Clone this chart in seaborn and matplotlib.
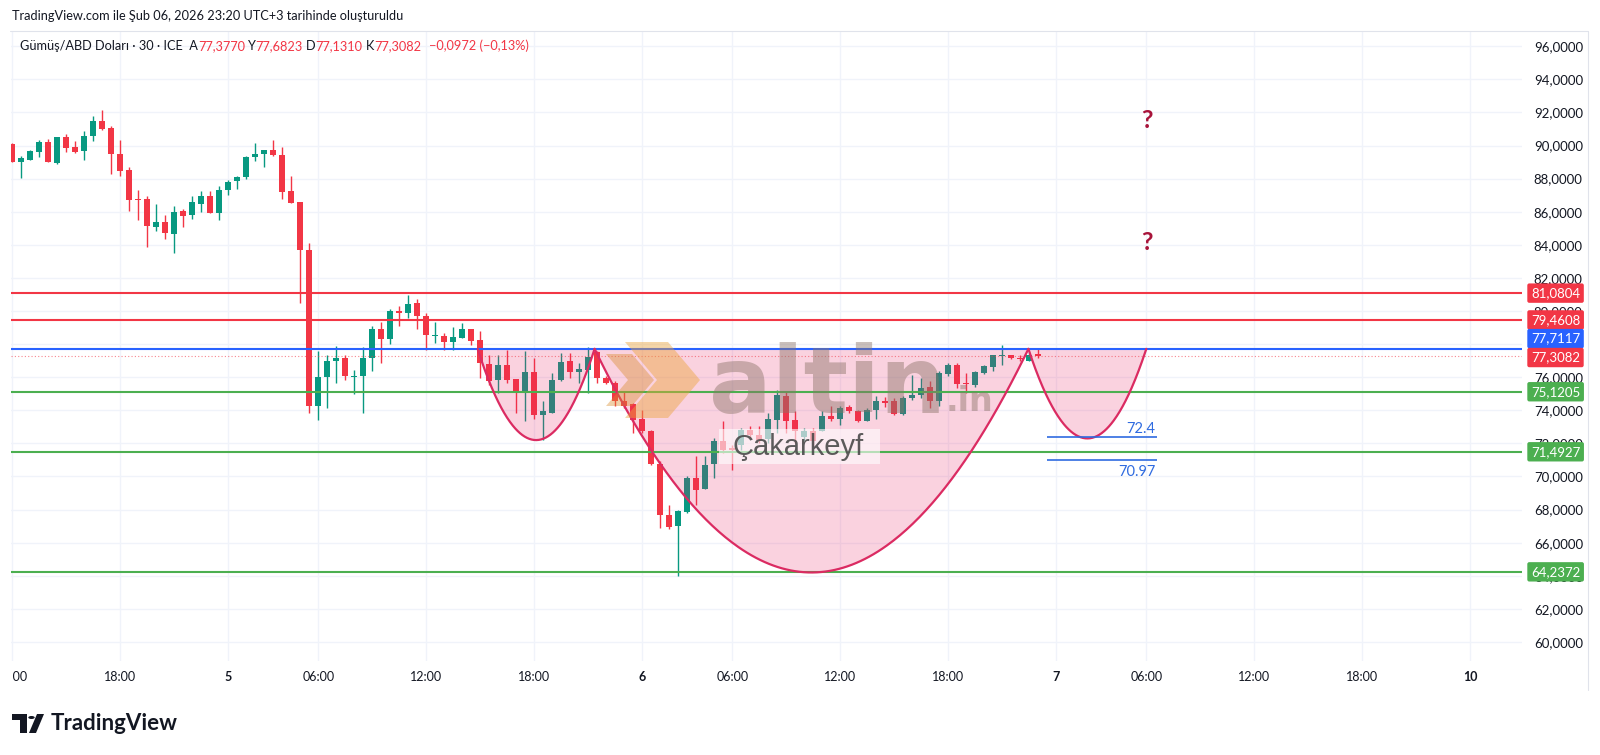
import numpy as np
import pandas as pd
import seaborn as sns
import matplotlib.pyplot as plt
from matplotlib.patches import Polygon, Rectangle, Circle
from matplotlib.transforms import Bbox

# 30 dk mumlar, 4 Şub 12:00 -> 6 Şub 23:00
opens = [90.09, 88.98, 89.14, 89.61, 90.19, 88.94, 90.49, 89.89, 89.65, 90.59,
         91.48, 91.06, 89.51, 88.54, 86.77, 86.77, 85.07, 85.40, 84.67, 86.02,
         85.78, 86.49, 86.97, 85.92, 87.33, 87.83, 88.08, 89.28, 89.51, 89.75,
         89.45, 87.23, 86.57, 83.71, 74.25, 76.02, 76.97, 77.17, 76.04, 76.06,
         77.17, 78.92, 78.33, 79.99, 79.87, 80.49, 79.68, 78.50, 78.46, 78.13,
         78.38, 78.94, 78.27, 76.80, 75.81, 76.76, 75.91, 75.08, 76.31, 73.73,
         73.84, 75.81, 76.96, 76.31, 76.45, 77.52, 75.95, 75.65, 74.54, 74.38,
         73.48, 72.77, 70.76, 67.66, 66.99, 67.86, 69.91, 69.27, 70.75, 72.14,
         71.70, 71.90, 72.79, 72.53, 72.28, 73.43, 74.84, 73.43, 72.37, 72.77,
         72.73, 73.63, 73.49, 74.18, 73.94, 73.37, 74.04, 74.54, 74.54, 73.77,
         74.74, 74.90, 75.39, 74.58, 76.19, 76.76, 75.65, 75.55, 76.25, 76.61,
         77.28, 77.32, 77.16, 77.00, 77.377]
highs = [90.15, 89.35, 89.75, 90.35, 90.39, 90.49, 90.69, 90.25, 90.86, 91.80,
         92.12, 91.16, 90.35, 88.70, 87.33, 86.97, 86.46, 85.78, 86.32, 86.16,
         86.93, 87.23, 87.23, 87.57, 87.93, 88.18, 89.35, 90.15, 89.75, 90.35,
         89.89, 88.18, 86.60, 84.12, 77.57, 77.37, 77.87, 77.37, 76.46, 77.81,
         79.08, 79.34, 80.15, 80.29, 80.95, 80.75, 79.89, 79.34, 78.68, 79.02,
         79.28, 78.94, 78.78, 77.37, 77.36, 77.66, 75.91, 77.56, 77.16, 74.54,
         76.25, 77.46, 77.46, 76.86, 77.80, 77.60, 76.05, 75.75, 75.19, 74.44,
         74.04, 72.80, 70.92, 68.26, 68.00, 70.01, 71.22, 71.22, 72.30, 73.33,
         71.90, 72.90, 73.03, 73.03, 73.84, 75.24, 75.19, 73.94, 72.93, 72.93,
         73.94, 74.24, 74.24, 74.34, 74.04, 74.14, 74.84, 74.78, 74.74, 74.84,
         76.15, 75.95, 75.79, 76.35, 76.86, 76.86, 76.25, 76.39, 76.76, 77.36,
         77.96, 77.32, 77.32, 77.52, 77.6823]
lows = [88.98, 88.04, 89.10, 89.28, 88.98, 88.88, 89.61, 89.55, 89.14, 90.25,
        90.96, 88.30, 88.14, 86.06, 85.48, 83.87, 84.81, 84.37, 83.50, 85.05,
        85.56, 85.98, 85.92, 85.52, 87.03, 87.37, 87.97, 89.04, 88.70, 89.39,
        86.79, 86.52, 80.49, 73.84, 73.44, 74.15, 75.66, 75.82, 75.01, 73.84,
        76.36, 76.86, 78.01, 79.08, 79.58, 78.94, 77.63, 78.07, 77.67, 77.67,
        78.38, 77.97, 75.96, 75.50, 75.04, 75.65, 73.84, 73.33, 73.49, 72.22,
        73.84, 75.75, 75.95, 75.65, 75.04, 75.65, 75.59, 74.24, 74.14, 72.63,
        72.63, 70.70, 66.89, 66.85, 63.97, 67.80, 68.30, 69.27, 69.93, 71.40,
        70.41, 71.60, 72.33, 72.02, 72.02, 72.63, 72.63, 72.02, 72.12, 71.82,
        72.73, 73.33, 73.09, 73.84, 73.29, 73.33, 73.49, 74.18, 73.69, 73.73,
        74.64, 74.74, 74.14, 74.24, 76.05, 75.35, 75.04, 75.39, 76.19, 76.35,
        76.76, 77.12, 77.00, 77.00, 77.131]
closes = [88.98, 89.22, 89.65, 90.19, 88.98, 90.49, 89.85, 89.61, 90.59, 91.48,
          91.00, 89.51, 88.46, 86.69, 86.73, 85.16, 85.40, 84.71, 85.98, 85.76,
          86.57, 86.97, 85.92, 87.33, 87.79, 88.08, 89.30, 89.51, 89.75, 89.45,
          87.19, 86.52, 83.71, 74.25, 76.02, 76.97, 77.17, 76.06, 76.10, 77.17,
          78.92, 78.33, 79.99, 79.87, 80.43, 79.68, 78.54, 78.54, 78.13, 78.42,
          78.94, 78.21, 76.86, 75.80, 76.72, 75.85, 75.14, 76.31, 73.69, 73.94,
          75.81, 76.90, 76.31, 76.49, 77.20, 75.95, 75.65, 74.54, 74.28, 73.44,
          72.77, 70.76, 67.66, 66.93, 67.90, 69.91, 69.21, 70.72, 72.16, 71.62,
          71.58, 72.80, 72.53, 72.22, 73.49, 74.94, 73.37, 72.73, 72.77, 72.12,
          73.63, 73.49, 74.14, 73.94, 73.33, 74.04, 74.58, 74.46, 73.77, 74.74,
          74.90, 75.35, 74.58, 76.25, 76.76, 75.59, 75.59, 76.29, 76.65, 77.32,
          77.32, 77.16, 77.12, 77.36, 77.3082]

# zaman ekseni (mum sırası)
tick_pos = [0, 12, 24, 34, 46, 58, 70, 80, 92, 104, 116, 126, 138, 150, 162]
tick_labels = ['12:00', '18:00', '5', '06:00', '12:00', '18:00', '6', '06:00',
               '12:00', '18:00', '7', '06:00', '12:00', '18:00', '10']
day_labels = ['5', '6', '7', '10']

# yatay seviyeler
levels = [81.0804, 79.4608, 77.7117, 75.1205, 71.4927, 64.2372]
level_colors = ['#F23645', '#F23645', '#2962FF', '#4CAF50', '#4CAF50', '#4CAF50']
last_price = 77.3082

# sağ eksendeki etiketler (değer, renk)
lab_vals = [81.0804, 79.4608, 77.7117, 77.3082, 75.1205, 71.4927, 64.2372]
lab_cols = ['#F23645', '#F23645', '#2962FF', '#F23645', '#4CAF50', '#4CAF50', '#4CAF50']

# çanak çizimleri: (başlangıç, bitiş, dip)
cups = [(51.7, 64.7, 72.2), (64.7, 112.9, 64.2), (112.9, 126.0, 72.3)]
cup_top = 77.7117

targets = [72.4, 70.97]

GREEN = '#089981'
RED = '#F23645'
DARK = '#131722'

sns.set_style('white')
plt.rcParams['font.family'] = ['Lato', 'DejaVu Sans']

W, H = 1600, 755
fig = plt.figure(figsize=(16, 7.55), dpi=100)


def fx(px):
    return px / W


def fy(py):
    return 1 - py / H


ax_l, ax_r, ax_t, ax_b = 11, 1522, 31, 661
ax = fig.add_axes([fx(ax_l), fy(ax_b), (ax_r - ax_l) / W, (ax_b - ax_t) / H])
step = 9.0
x0px = 12.3
ax.set_xlim((ax_l - x0px) / step, (ax_r - x0px) / step)
ax.set_ylim(58.85, 96.92)

# mumlar
df = pd.DataFrame({'o': opens, 'h': highs, 'l': lows, 'c': closes})
df['x'] = np.arange(len(df))
df['col'] = np.where(df['c'] >= df['o'], GREEN, RED)
body_lo = np.minimum(df['o'], df['c'])
body_h = np.maximum((df['c'] - df['o']).abs(), 0.05)
ax.vlines(df['x'], df['l'], df['h'], colors=df['col'], lw=1, zorder=3)
ax.bar(df['x'], body_h, bottom=body_lo, width=0.66, color=df['col'], lw=0, zorder=4)

# seviyeler
for v, col in zip(levels, level_colors):
    ax.axhline(v, color=col, lw=1.5, zorder=6)
ax.axhline(last_price, color=RED, lw=0.8, ls=(0, (1, 2)), alpha=0.6, zorder=6)

# çanaklar
for xs, xe, bot in cups:
    t = np.linspace(0, 1, 200)
    xm = (xs + xe) / 2
    cy = 2 * bot - cup_top
    xx = (1 - t) ** 2 * xs + 2 * (1 - t) * t * xm + t ** 2 * xe
    yy = (1 - t) ** 2 * cup_top + 2 * (1 - t) * t * cy + t ** 2 * cup_top
    ax.fill_between(xx, yy, cup_top, color='#E91E63', alpha=0.2, lw=0, zorder=5)
    sns.lineplot(x=xx, y=yy, ax=ax, color='#DB2B62', lw=1.6, sort=False, zorder=7)

# hedef çizgileri
ax.hlines(targets, 115.0, 127.2, color='#2F6BE0', lw=1.2, zorder=7)
ax.text(127.0, targets[0] + 0.05, '72.4', color='#2F6BE0', fontsize=10.5,
        ha='right', va='bottom', zorder=8)
ax.text(127.0, targets[1] - 0.25, '70.97', color='#2F6BE0', fontsize=10.5,
        ha='right', va='top', zorder=8)

# soru işaretleri
for yq in [91.5, 84.15]:
    ax.text(126.1, yq, '?', color='#A8143A', fontsize=18, fontweight='bold',
            ha='center', va='center', zorder=8)

# eksenler
ax.set_yticks(np.arange(60, 97, 2))
ax.set_yticklabels([f'{v:.4f}'.replace('.', ',') for v in np.arange(60, 97, 2)])
ax.yaxis.tick_right()
ax.tick_params(axis='y', length=0, pad=8.5, labelsize=9.5, labelcolor=DARK)
ax.set_xticks(tick_pos)
ax.set_xticklabels(tick_labels)
ax.tick_params(axis='x', length=0, pad=7, labelsize=9, labelcolor=DARK)
clip = Bbox.from_extents(ax_l + 1, 0, W, H)
for lbl in ax.get_xticklabels():
    if lbl.get_text() in day_labels:
        lbl.set_fontweight('bold')
    lbl.set_clip_box(clip)
    lbl.set_clip_on(True)
ax.grid(True, color='#F0F3FA', lw=1)
ax.set_axisbelow(True)
for s in ax.spines.values():
    s.set_visible(False)

# fiyat etiketleri: üst üste binenleri TradingView gibi aç
ytr = ax.get_yaxis_transform()
lab_y = list(lab_vals)
lab_y[2] = lab_vals[2] + 0.62
lab_y[3] = lab_vals[3] - 0.12
xa = (1531 - ax_l) / (ax_r - ax_l)
for v, yv, col in zip(lab_vals, lab_y, lab_cols):
    ax.text(xa, yv, f'{v:.4f}'.replace('.', ','), transform=ytr,
            color='white', fontsize=9.5, ha='left', va='center', clip_on=False, zorder=20,
            bbox=dict(boxstyle='round,pad=0.28,rounding_size=0.15', fc=col, ec='none'))

# filigran
fig.patches.append(Polygon([(fx(625), fy(342)), (fx(668), fy(342)), (fx(700), fy(380)),
                            (fx(668), fy(418)), (fx(625), fy(418)), (fx(657), fy(380))],
                           closed=True, transform=fig.transFigure, fc='#EBA43C', alpha=0.45,
                           ec='none', zorder=30))
fig.patches.append(Polygon([(fx(606), fy(354)), (fx(632), fy(354)), (fx(654), fy(380)),
                            (fx(632), fy(406)), (fx(606), fy(406)), (fx(628), fy(380))],
                           closed=True, transform=fig.transFigure, fc='#D98A2A', alpha=0.4,
                           ec='none', zorder=30))
fig.text(fx(709), fy(413), 'altin', fontsize=67, fontweight='bold', family='DejaVu Sans',
         color='#8B7468', alpha=0.45, va='baseline', ha='left', zorder=31)
fig.text(fx(946), fy(411), '.in', fontsize=24, fontweight='bold', family='DejaVu Sans',
         color='#8B7468', alpha=0.45, va='baseline', ha='left', zorder=31)
fig.patches.append(Rectangle((fx(719), fy(464)), (880 - 719) / W, 35 / H,
                             transform=fig.transFigure, fc='white', alpha=0.6, ec='none',
                             zorder=32))
fig.text(fx(733), fy(447), 'Çakarkeyf', fontsize=21, family='Liberation Sans',
         color='#4A4A4A', alpha=0.9, va='center', ha='left', zorder=33)

# başlık
fig.text(fx(12), fy(16), 'TradingView.com ile Şub 06, 2026 23:20 UTC+3 tarihinde oluşturuldu',
         fontsize=9.2, color=DARK, va='center', ha='left')
renderer = fig.canvas.get_renderer()
pieces = [('Gümüş/ABD Doları · 30 · ICE  A', DARK, 0), ('77,3770', RED, 3), ('Y', DARK, 0),
          ('77,6823', RED, 3), ('D', DARK, 0), ('77,1310', RED, 3), ('K', DARK, 0),
          ('77,3082', RED, 8), ('−0,0972 (−0,13%)', RED, 0)]
xcur = fx(20)
for s, col, gap in pieces:
    t = fig.text(xcur, fy(46), s, fontsize=9.2, color=col, va='center', ha='left')
    xcur += (t.get_window_extent(renderer).width + gap) / W

# çerçeve
fig.add_artist(plt.Line2D([fx(10), fx(1588)], [fy(31), fy(31)], color='#E0E3EB', lw=0.8))
fig.add_artist(plt.Line2D([fx(1588), fx(1588)], [fy(31), fy(690)], color='#E0E3EB', lw=0.8))

# TradingView logosu
fig.patches.append(Rectangle((fx(12), fy(720)), 15 / W, 6 / H, transform=fig.transFigure,
                             fc=DARK, ec='none'))
fig.patches.append(Rectangle((fx(20), fy(733)), 7 / W, 19 / H, transform=fig.transFigure,
                             fc=DARK, ec='none'))
fig.patches.append(Circle((fx(31.5), fy(717.5)), 3.2 / W, transform=fig.transFigure,
                          fc=DARK, ec='none'))
fig.patches.append(Polygon([(fx(37), fy(714)), (fx(44), fy(714)), (fx(36), fy(733)),
                            (fx(29), fy(733))], closed=True, transform=fig.transFigure,
                           fc=DARK, ec='none'))
fig.text(fx(51), fy(723), 'TradingView', fontsize=16, fontweight='bold', color=DARK,
         va='center', ha='left')

fig.savefig('out.png', dpi=100)
